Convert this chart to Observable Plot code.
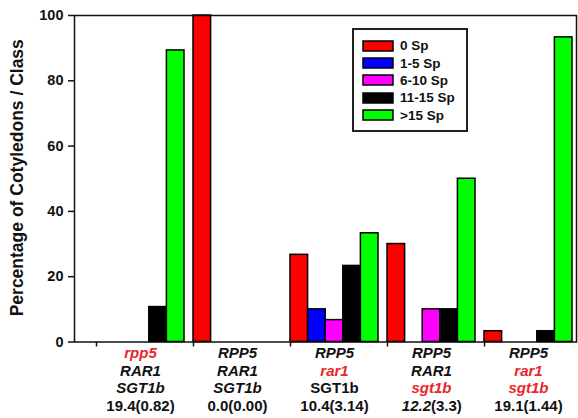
<!DOCTYPE html>
<html>
<head>
<meta charset="utf-8">
<script src="https://cdn.jsdelivr.net/npm/d3@7"></script>
<script src="https://cdn.jsdelivr.net/npm/@observablehq/plot@0.6"></script>
<style>
  html, body { margin: 0; padding: 0; background: #fff; }
  #wrap { position: relative; width: 578px; height: 418px; font-family: "Liberation Sans", Arial, sans-serif; }
  #legend { position: absolute; left: 352px; top: 28px; width: 116px; height: 104px; box-sizing: border-box;
            border: 2px solid #222; background: #fff; padding: 7px 0 0 9px; }
  #legend * { font-family: "Liberation Sans", Arial, sans-serif; font-size: 13.5px; font-weight: bold; color: #111; }
  #legend > div { margin: 0 !important; padding: 0 !important; columns: auto !important; }
  #legend > div > div { height: 17.4px; display: flex; align-items: center; margin: 0; padding: 0; }
  #legend svg { overflow: visible; margin-right: 7px; flex-shrink: 0; }
  #legend svg rect { stroke: #000; stroke-width: 1.5px; }
</style>
</head>
<body>
<div id="wrap"></div>
<script>
// ---- data ----
const genotypes = ["rpp5 RAR1 SGT1b", "RPP5 RAR1 SGT1b", "RPP5 rar1 SGT1b", "RPP5 RAR1 sgt1b", "RPP5 rar1 sgt1b"];
const line1 = ["rpp5", "RPP5", "RPP5", "RPP5", "RPP5"];
const line2 = ["RAR1", "RAR1", "rar1", "RAR1", "rar1"];
const line3 = ["SGT1b", "SGT1b", "SGT1b", "sgt1b", "sgt1b"];
const means = ["19.4", "0.0", "10.4", "12.2", "19.1"];
const sds = ["(0.82)", "(0.00)", "(3.14)", "(3.3)", "(1.44)"];

const series = ["0 Sp", "1-5 Sp", "6-10 Sp", "11-15 Sp", ">15 Sp"];
const colors = ["#ff0000", "#0000ff", "#ff00ff", "#000000", "#00ff00"];
const sp0 = [0, 100, 26.7, 30, 3.3];
const sp1to5 = [0, 0, 10, 0, 0];
const sp6to10 = [0, 0, 6.7, 10, 0];
const sp11to15 = [10.7, 0, 23.3, 10, 3.3];
const spOver15 = [89.3, 0, 33.3, 50, 93.3];
const yTicks = [0, 20, 40, 60, 80, 100];

const seriesValues = [sp0, sp1to5, sp6to10, sp11to15, spOver15];
const table = [];
series.forEach((s, i) => genotypes.forEach((g, j) => table.push({series: s, si: i, genotype: g, gi: j, value: seriesValues[i][j]})));

const RED = "#e8262b";
const isMutant = t => /^[a-z]/.test(t);
const labelRows = genotypes.map((g, j) => ({
  genotype: g, l1: line1[j], l2: line2[j], l3: line3[j], mean: means[j], sd: sds[j],
  c1: isMutant(line1[j]) ? RED : "#111", c2: isMutant(line2[j]) ? RED : "#111", c3: isMutant(line3[j]) ? RED : "#111"
}));

const font = "'Liberation Sans', Arial, sans-serif";
const bandW = 88, nS = series.length, barW = bandW / nS;

const barMarks = series.map((s, i) => Plot.barY(table.filter(d => d.si === i && d.value > 0), {
  x: "genotype", y: "value", fill: colors[i], stroke: "#000", strokeWidth: 1.5,
  insetLeft: i * barW, insetRight: (nS - 1 - i) * barW
}));

const txt = {fontFamily: font, fontWeight: "bold", fontSize: 15, frameAnchor: "bottom", x: "genotype"};

const chart = Plot.plot({
  width: 578, height: 418,
  marginTop: 15, marginBottom: 76.5, marginLeft: 74, marginRight: 2,
  style: {fontFamily: font, background: "#fff", overflow: "visible"},
  x: {type: "band", domain: genotypes, paddingInner: 0.0928, paddingOuter: 0.134, align: 0.846, axis: null},
  y: {domain: [0, 100], axis: null},
  marks: [
    ...barMarks,
    Plot.frame({stroke: "#111", strokeWidth: 1.5}),
    Plot.axisY(yTicks, {tickSize: 6, tickPadding: 5, fontSize: 14.5, fontWeight: "bold", fontFamily: font, label: null, strokeWidth: 1.5, color: "#111"}),
    Plot.axisX(genotypes, {tickSize: 5, tickFormat: () => "", dx: -bandW / 2, label: null, strokeWidth: 1.5, color: "#111"}),
    Plot.text(["Percentage of Cotyledons / Class"], {frameAnchor: "left", textAnchor: "middle", rotate: -90, dx: -57, dy: -1, fontSize: 17.5, fontWeight: "bold", fontFamily: font, fill: "#111"}),
    Plot.text(labelRows, {...txt, text: "l1", fill: "c1", fontStyle: "italic", dy: 16}),
    Plot.text(labelRows, {...txt, text: "l2", fill: "c2", fontStyle: "italic", dy: 33.5}),
    Plot.text(labelRows.filter((d, j) => j !== 2), {...txt, text: "l3", fill: "c3", fontStyle: "italic", dy: 51}),
    Plot.text(labelRows.filter((d, j) => j === 2), {...txt, text: "l3", fill: "c3", dy: 51}),
    Plot.text(labelRows.filter((d, j) => j !== 3), {...txt, text: d => d.mean + d.sd, fill: "#111", dy: 69}),
    Plot.text(labelRows.filter((d, j) => j === 3), {...txt, text: "mean", fill: "#111", fontStyle: "italic", textAnchor: "end", dx: -0.5, dy: 69}),
    Plot.text(labelRows.filter((d, j) => j === 3), {...txt, text: "sd", fill: "#111", textAnchor: "start", dx: -0.5, dy: 69})
  ]
});

const wrap = document.getElementById("wrap");
wrap.appendChild(chart);

const legend = Plot.legend({
  legend: "swatches",
  color: {domain: series, range: colors},
  columns: 1, swatchWidth: 30, swatchHeight: 10
});
const lg = document.createElement("div");
lg.id = "legend";
lg.appendChild(legend);
wrap.appendChild(lg);
</script>
</body>
</html>
